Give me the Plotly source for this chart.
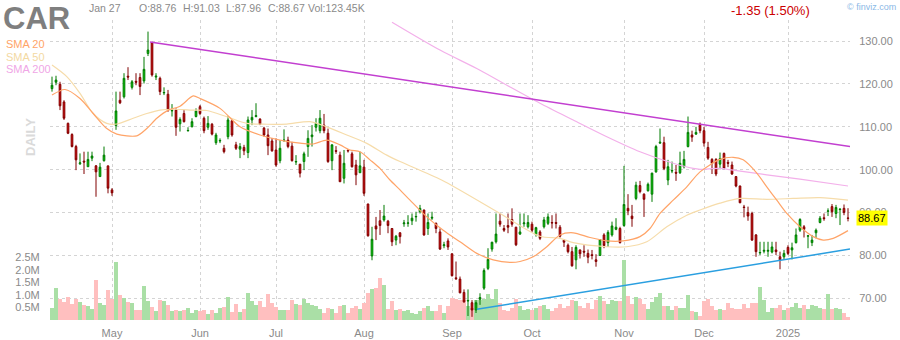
import plotly.graph_objects as go

# ---------------- data ----------------
open_ = [118.9,120.4,119.9,115.8,110.8,108.2,105.4,101.4,102.0,100.7,102.7,100.9,98.4,102.1,100.9,95.3,
         110.3,116.2,117.0,121.8,119.2,120.6,121.5,120.7,127.1,129.6,121.6,121.3,117.9,117.6,113.7,113.9,
         110.7,113.1,109.05,110.0,112.4,114.7,112.0,109.9,110.6,106.3,106.7,105.0,107.7,111.4,105.8,104.8,
         105.2,104.0,111.6,112.4,111.8,109.7,108.1,106.7,104.6,102.1,106.8,106.9,105.5,101.8,101.3,101.9,
         105.4,107.7,109.9,109.1,110.4,108.5,102.1,104.45,103.4,98.0,104.5,103.7,101.1,99.3,100.6,92.0,
         79.9,86.9,88.1,88.3,88.0,86.3,83.6,85.3,87.4,87.5,88.1,89.0,90.2,90.6,86.3,88.7,
         87.5,85.5,82.3,83.4,80.4,74.8,74.5,71.4,69.4,69.0,67.3,69.8,72.4,77.0,81.5,83.2,
         88.0,86.3,87.0,88.4,86.6,85.0,87.4,86.7,87.3,84.9,85.5,86.7,87.5,87.7,87.7,86.6,
         83.6,82.4,80.9,79.0,81.3,81.0,80.5,80.2,79.0,80.0,84.8,83.0,84.8,86.1,86.3,87.0,
         91.0,89.2,93.3,96.3,94.3,95.1,94.3,99.5,106.2,106.3,97.6,99.7,99.4,99.3,100.7,105.4,
         108.1,108.3,110.6,109.1,105.2,102.4,102.4,101.3,103.8,101.7,101.1,98.4,96.2,91.3,90.0,89.8,
         84.8,80.6,81.0,81.0,80.8,81.3,79.7,79.7,81.9,81.3,83.0,85.9,86.7,84.5,83.0,85.3,
         87.7,88.8,90.3,91.4,89.8,90.7,91.0,88.76]
high = [121.7,121.9,120.5,116.2,111.0,108.5,105.8,103.8,104.2,104.2,104.2,101.1,101.6,105.4,100.9,95.7,
        118.2,118.2,122.5,123.9,120.9,122.5,122.5,126.3,132.2,129.8,122.5,121.7,119.2,118.6,115.3,114.3,
        112.2,113.9,109.9,112.0,114.3,115.1,112.4,112.5,110.9,108.6,107.3,105.8,112.5,111.6,106.5,106.2,
        105.8,112.4,113.9,115.5,112.0,110.0,109.6,107.4,107.3,106.9,109.4,107.7,106.5,103.4,101.3,104.2,
        109.2,110.4,112.0,113.9,113.0,109.6,105.9,105.5,104.2,104.6,104.8,104.2,102.3,104.2,102.3,92.1,
        86.7,89.0,90.6,91.8,88.3,86.4,84.8,85.4,88.3,89.4,89.8,90.2,91.8,90.7,89.8,90.2,
        87.7,86.3,83.2,84.0,80.5,78.6,75.1,72.1,72.1,69.6,69.6,71.2,77.0,81.7,83.2,89.8,
        89.8,87.1,89.8,91.0,86.7,89.8,89.8,89.4,87.9,86.7,85.9,89.0,89.8,89.4,89.8,87.1,
        83.8,82.8,82.0,82.4,81.4,82.4,81.4,81.3,80.3,83.7,85.2,85.9,87.9,88.7,86.7,100.9,
        94.3,91.8,97.2,97.4,94.5,97.0,99.3,105.8,109.6,107.7,102.3,101.9,101.1,104.2,104.4,112.4,
        109.1,110.0,111.0,110.0,106.5,102.7,102.7,104.0,104.0,102.3,101.9,98.5,96.3,91.8,91.4,90.2,
        85.0,83.2,83.2,83.2,83.2,83.2,80.9,81.3,82.4,83.0,86.3,88.7,87.1,84.8,84.8,86.3,
        89.2,89.8,91.0,92.0,91.8,91.0,91.9,91.03]
low = [118.2,119.7,113.9,111.6,108.3,105.2,99.9,101.1,99.0,100.7,102.0,93.7,98.4,101.9,94.5,93.9,
       109.3,115.3,116.6,120.9,118.7,119.7,117.4,120.1,126.5,121.7,120.9,117.4,117.4,113.5,112.4,107.9,
       108.9,111.0,108.95,109.9,112.2,112.7,108.5,109.3,108.0,105.8,106.2,103.8,107.1,107.7,104.6,102.7,
       103.4,102.7,110.4,112.2,110.4,107.7,103.4,104.2,100.7,101.5,106.5,105.0,101.9,101.1,98.2,99.9,
       103.0,105.4,108.9,108.5,108.5,101.6,99.9,103.7,97.2,96.8,104.0,100.5,96.4,99.3,93.9,84.4,
       78.9,83.6,84.8,87.9,85.2,82.2,82.4,82.8,86.7,86.7,87.1,87.9,89.8,84.6,84.8,88.3,
       85.2,81.3,81.7,81.3,75.1,74.3,71.2,69.0,65.9,65.7,66.6,68.5,72.0,76.6,80.9,82.8,
       86.7,85.5,85.2,86.7,82.2,84.8,86.7,86.3,85.5,84.4,83.6,86.3,87.1,86.3,86.3,84.2,
       82.0,80.5,77.4,76.8,79.3,79.7,78.2,79.1,77.4,79.9,81.7,82.0,84.4,85.9,82.8,86.7,
       89.4,86.7,92.9,94.5,89.0,94.9,92.5,99.3,106.0,99.9,96.4,99.2,97.4,99.0,100.3,105.2,
       106.5,108.1,108.5,105.4,102.3,99.0,98.5,100.1,100.1,100.6,98.8,95.9,92.2,88.9,88.1,83.4,
       79.7,80.1,80.5,79.7,80.5,80.1,76.8,79.0,80.1,79.1,82.8,85.5,84.2,81.7,82.2,84.0,
       87.5,88.1,89.2,89.0,88.7,87.1,89.4,87.96]
close = [119.7,120.9,114.9,112.0,108.5,105.4,102.3,101.6,101.8,102.4,103.2,99.5,100.6,103.4,95.7,94.6,
         113.7,115.6,121.3,121.6,120.5,120.4,119.4,123.4,127.9,122.1,121.8,118.2,118.0,113.9,113.8,109.9,
         111.7,111.2,109.15,111.2,113.7,113.1,109.1,110.8,108.3,108.1,106.8,104.2,111.6,108.1,105.0,105.4,
         104.4,111.6,112.2,112.6,110.6,108.1,105.6,104.4,101.1,105.0,106.9,105.4,102.1,101.9,99.2,103.7,
         107.3,108.1,110.8,112.0,109.1,101.9,105.8,104.3,97.2,101.5,104.4,100.7,98.8,100.9,94.5,84.6,
         83.8,86.2,87.0,89.2,87.0,83.2,84.5,84.4,87.6,87.6,88.7,89.1,91.0,84.8,87.7,88.9,
         86.3,81.5,82.5,82.0,75.3,74.6,71.3,69.2,69.5,67.3,69.0,70.2,76.5,79.1,83.1,85.0,
         87.3,85.9,86.6,87.3,82.5,85.5,87.6,87.7,85.9,86.5,84.0,88.3,89.0,87.6,87.5,84.5,
         83.1,80.9,77.6,81.9,80.4,80.8,79.6,80.0,78.6,83.7,82.3,85.4,86.9,86.6,83.0,91.9,
         90.4,88.6,96.4,94.9,93.1,96.6,99.2,105.4,106.4,100.3,100.7,99.8,99.2,101.5,102.4,108.7,
         107.6,108.7,109.1,106.2,102.7,101.5,99.0,102.6,100.3,101.5,99.0,96.2,92.3,91.2,89.2,83.6,
         80.9,80.7,81.2,81.2,82.0,80.9,79.0,80.5,80.5,81.8,84.8,88.4,86.1,84.6,83.6,85.9,
         88.7,88.6,90.4,90.2,91.2,90.8,90.02,88.67]
volume_m = [0.47,1.27,0.86,0.72,0.91,0.63,0.86,0.71,0.59,0.55,0.44,1.59,0.69,0.59,1.19,0.86,
            2.31,0.99,0.90,0.72,0.67,0.39,0.39,1.35,0.75,0.51,0.35,0.79,0.75,0.59,0.35,0.39,
            0.35,0.39,0.49,0.27,0.39,0.36,0.39,0.23,0.39,0.27,0.47,0.51,0.91,0.31,0.63,0.31,
            0.43,1.07,0.75,0.59,0.75,0.51,1.03,0.67,0.51,0.39,0.39,0.39,0.79,0.63,0.59,0.85,
            0.70,0.60,0.55,0.45,0.30,0.50,0.45,0.30,0.55,0.60,0.30,0.50,0.55,0.45,0.70,1.10,
            1.25,1.30,1.70,1.40,0.45,0.75,0.40,0.45,0.35,0.40,0.30,0.25,0.35,0.50,0.55,0.35,
            0.35,0.60,0.30,0.55,0.90,0.85,0.80,0.80,0.55,0.50,0.80,0.80,0.85,1.05,0.85,1.25,
            0.70,0.40,0.35,0.50,0.85,0.55,0.40,0.45,0.40,0.50,0.55,0.60,0.45,0.35,0.50,0.65,
            0.50,0.55,0.80,0.75,0.55,0.50,0.70,0.45,0.80,0.95,0.75,0.65,0.80,0.75,0.75,2.40,
            0.96,0.63,0.94,0.86,0.63,0.45,0.72,0.94,1.07,0.56,0.56,0.40,0.56,0.49,0.49,1.00,
            0.36,0.32,0.16,0.76,0.86,0.56,0.40,0.45,0.39,0.67,0.49,0.43,0.43,0.63,0.49,0.67,
            0.67,1.33,0.79,0.33,0.47,0.47,0.59,0.40,0.49,0.52,0.67,0.49,0.59,0.43,0.60,0.56,
            0.49,0.43,1.05,0.43,0.49,0.45,0.29,0.12345]

month_idx = [15, 37, 56, 78, 100, 120, 143, 163, 184]
month_labels = ["May", "Jun", "Jul", "Aug", "Sep", "Oct", "Nov", "Dec", "2025"]

sma20_idx = [0, 3.25, 7, 10.3, 13.7, 16.2, 21.2, 23.7, 26.2, 29.1, 32, 35.3, 37, 42, 47, 52, 57, 62, 65.3,
             68.7, 72, 74.5, 77, 79.5, 82, 84.5, 87, 89.5, 93.7, 97.8, 102, 106.2, 110.3, 114.5, 117, 120.3,
             123.7, 127, 130.3, 134.5, 138.7, 142.8, 147, 149.5, 152, 155.3, 158.7, 162, 167, 170.3, 172.8,
             176.2, 178.7, 181.2, 183.7, 187, 190.3, 192.8, 195.3, 199]
sma20_val = [117.4, 118.7, 116.6, 113.1, 109.6, 108.3, 107.9, 109.6, 112.0, 113.9, 114.8, 117.2, 116.6, 114.3,
             110.0, 108.1, 106.9, 106.2, 106.0, 106.9, 105.8, 104.6, 104.2, 102.3, 100.3, 97.6, 95.3, 92.9,
             89.0, 85.9, 83.2, 80.5, 79.0, 78.4, 78.6, 79.7, 82.05, 84.8, 85.3, 84.2, 83.4, 83.4, 84.4, 86.3,
             89.8, 92.9, 96.0, 99.5, 102.4, 102.9, 102.3, 99.2, 96.0, 92.9, 89.8, 86.7, 84.4, 83.6, 84.0, 85.8]
sma50_idx = [0, 3.7, 7, 10.3, 13.7, 16.2, 20.3, 23.7, 27, 30.3, 34.5, 38.7, 43.7, 48.7, 53.7, 58.7, 64.5,
             68.7, 73.7, 78.7, 83.7, 87, 97.4, 112, 122, 127, 130.3, 138.7, 143.7, 148.7, 153.7, 158.7, 162,
             167, 172, 178.7, 185.3, 192, 199]
sma50_val = [124.4, 121.7, 117.8, 113.1, 110.8, 110.65, 112.0, 113.1, 113.9, 114.1, 113.9, 113.8, 112.35,
             110.8, 110.6, 110.65, 111.2, 110.0, 108.1, 106.15, 103.4, 101.9, 97.6, 89.8, 84.5, 84.0, 83.0,
             82.05, 82.05, 83.2, 86.7, 89.4, 90.6, 92.2, 93.3, 93.1, 93.3, 93.5, 92.9]
sma200_idx = [85, 97, 107, 114.5, 122, 130.3, 138.7, 147, 155.3, 160.3, 162, 167, 170.3, 178.7, 187, 199]
sma200_val = [134.4, 127.9, 123.2, 119.3, 115.5, 111.6, 107.7, 104.2, 101.5, 100.3, 100.1, 100.3, 99.9,
              98.8, 97.8, 96.2]

resist_idx = [24.5, 199.5]
resist_val = [129.77, 105.4]
support_idx = [106.2, 199.5]
support_val = [67.45, 81.5]

price_ticks = [70, 80, 90, 100, 110, 120, 130]
vol_ticks = [0.5, 1.0, 1.5, 2.0, 2.5]
last_price = 88.67

# ---------------- figure ----------------
W, H = 900, 340
ML, MR, MT, MB = 50, 50, 20, 20
PW, PH = W - ML - MR, H - MT - MB


def px(x):
    return (x - ML) / PW


def py(y):
    return (H - MB - y) / PH


FONT = "Liberation Sans, Arial, sans-serif"
GRID = "#d4d4d4"
TXT = "#8a8a8a"

x = list(range(len(close)))
vol_colors = ["#aadfa6" if c >= o else "#ffbfbf" for o, c in zip(open_, close)]

fig = go.Figure()
fig.add_trace(go.Bar(x=x, y=volume_m, marker=dict(color=vol_colors, line=dict(width=0)),
                     width=1.0, yaxis="y", xaxis="x", showlegend=False, hoverinfo="skip"))

for idx, val, col in [(sma200_idx, sma200_val, "#f3b0ea"),
                      (sma50_idx, sma50_val, "#f6dcaa"),
                      (sma20_idx, sma20_val, "#ffa468")]:
    fig.add_trace(go.Scatter(x=idx, y=val, mode="lines", yaxis="y2",
                             line=dict(color=col, width=1.2, shape="spline", smoothing=0.8),
                             showlegend=False, hoverinfo="skip"))

fig.add_trace(go.Scatter(x=resist_idx, y=resist_val, mode="lines", yaxis="y2",
                         line=dict(color="#c23fd0", width=1.5), showlegend=False, hoverinfo="skip"))
fig.add_trace(go.Scatter(x=support_idx, y=support_val, mode="lines", yaxis="y2",
                         line=dict(color="#2a9fe0", width=1.5), showlegend=False, hoverinfo="skip"))

fig.add_trace(go.Candlestick(x=x, open=open_, high=high, low=low, close=close, yaxis="y2",
                             increasing=dict(line=dict(color="#007a00", width=1), fillcolor="#00d800"),
                             decreasing=dict(line=dict(color="#800000", width=1), fillcolor="#e00000"),
                             whiskerwidth=0, showlegend=False, hoverinfo="skip"))

fig.update_layout(
    width=W, height=H, margin=dict(l=ML, r=MR, t=MT, b=MB, autoexpand=False),
    paper_bgcolor="white", plot_bgcolor="white",
    boxgap=0.4, bargap=0,
    font=dict(family=FONT, size=11, color=TXT),
    xaxis=dict(range=[-0.5, len(close) - 0.5], tickvals=month_idx, ticktext=month_labels,
               showgrid=True, gridcolor=GRID, griddash="3px,3px", gridwidth=1, automargin=False,
               zeroline=False, showline=False, ticks="outside", ticklen=3, tickcolor="rgba(0,0,0,0)",
               rangeslider=dict(visible=False), tickfont=dict(size=11, color=TXT)),
    yaxis=dict(range=[0, 12], side="left", tickvals=vol_ticks, automargin=False,
               ticktext=[f"{v:.1f}M" for v in vol_ticks], showgrid=False, zeroline=False,
               showline=False, ticks="outside", ticklen=7, tickcolor="rgba(0,0,0,0)",
               tickfont=dict(size=11, color=TXT)),
    yaxis2=dict(range=[64.97, 134.9], side="right", overlaying="y", tickvals=price_ticks, automargin=False,
                ticktext=[f"{v:.2f}" for v in price_ticks], showgrid=True, gridcolor=GRID,
                griddash="3px,3px", zeroline=False, showline=False, ticks="outside", ticklen=6,
                tickcolor="rgba(0,0,0,0)", tickfont=dict(size=11, color=TXT)),
)

ann = []


def txt(s, x, y, size, color, xanchor="left", **kw):
    ann.append(dict(text=s, x=px(x), y=py(y), xref="paper", yref="paper", xanchor=xanchor,
                    yanchor="middle", showarrow=False, font=dict(family=FONT, size=size, color=color),
                    **kw))


txt("<b>CAR</b>", 1, 19, 31, "#7f7f7f")
txt("Jan 27", 87, 8, 10.5, TXT)
txt("O:88.76", 137, 8, 10.5, TXT)
txt("H:91.03", 181, 8, 10.5, TXT)
txt("L:87.96", 224, 8, 10.5, TXT)
txt("C:88.67", 266, 8, 10.5, TXT)
txt("Vol:123.45K", 306, 8, 10.5, TXT)
txt("-1.35 (1.50%)", 729, 11, 13, "#cc0000")
txt("© finviz.com", 898, 7, 9, "#8ab8e6", xanchor="right")
txt("SMA 20", 4, 44, 11, "#ffa468")
txt("SMA 50", 4, 57, 11, "#f3d9a2")
txt("SMA 200", 4, 69, 11, "#f0a6e6")
ann.append(dict(text="<b>DAILY</b>", x=px(30), y=py(137), xref="paper", yref="paper",
                xanchor="center", yanchor="middle", textangle=-90, showarrow=False,
                font=dict(family=FONT, size=13, color="#dadada")))
ann.append(dict(text=f"{last_price:.2f}", x=px(856), y=last_price, xref="paper", yref="y2",
                xanchor="left", yanchor="middle", showarrow=False, bgcolor="#ffff00",
                borderpad=1, font=dict(family=FONT, size=11, color="#000000")))
fig.update_layout(annotations=ann)

fig.write_html("out.html")
